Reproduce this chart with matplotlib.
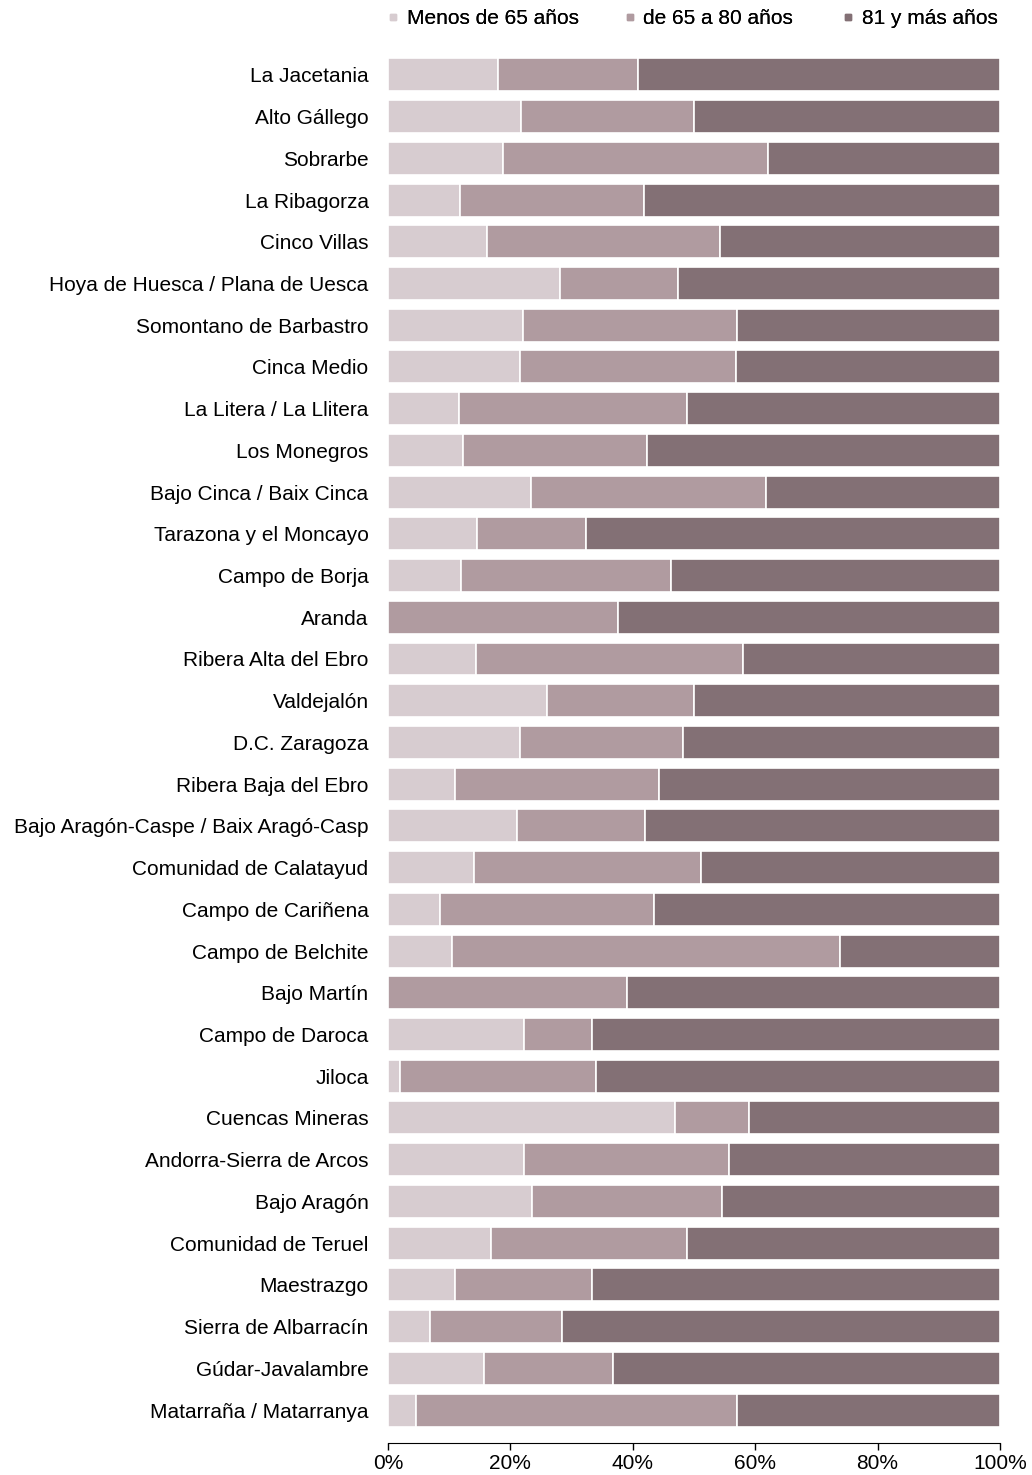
import matplotlib
matplotlib.use("Agg")
import matplotlib.pyplot as plt
from matplotlib.lines import Line2D

plt.rcParams['font.family'] = ['Liberation Sans', 'DejaVu Sans']

comarcas = [
    "La Jacetania", "Alto Gállego", "Sobrarbe", "La Ribagorza", "Cinco Villas",
    "Hoya de Huesca / Plana de Uesca", "Somontano de Barbastro", "Cinca Medio",
    "La Litera / La Llitera", "Los Monegros", "Bajo Cinca / Baix Cinca",
    "Tarazona y el Moncayo", "Campo de Borja", "Aranda", "Ribera Alta del Ebro",
    "Valdejalón", "D.C. Zaragoza", "Ribera Baja del Ebro",
    "Bajo Aragón-Caspe / Baix Aragó-Casp", "Comunidad de Calatayud",
    "Campo de Cariñena", "Campo de Belchite", "Bajo Martín", "Campo de Daroca",
    "Jiloca", "Cuencas Mineras", "Andorra-Sierra de Arcos", "Bajo Aragón",
    "Comunidad de Teruel", "Maestrazgo", "Sierra de Albarracín",
    "Gúdar-Javalambre", "Matarraña / Matarranya",
]

# cumulative boundaries (%)
menos65 = [17.9, 21.7, 18.8, 11.8, 16.2, 28.1, 22.1, 21.5, 11.6, 12.3, 23.4,
           14.6, 12.0, 0.0, 14.4, 26.0, 21.5, 10.9, 21.0, 14.0, 8.5, 10.4,
           0.0, 22.2, 1.9, 46.9, 22.2, 23.6, 16.8, 10.9, 6.9, 15.6, 4.5]
hasta80 = [40.8, 50.0, 62.1, 41.9, 54.2, 47.4, 57.1, 56.8, 48.8, 42.3, 61.8,
           32.3, 46.2, 37.5, 58.0, 50.0, 48.2, 44.3, 42.0, 51.2, 43.4, 73.9,
           39.0, 33.3, 34.0, 59.0, 55.7, 54.5, 48.8, 33.3, 28.5, 36.8, 57.1]

de65a80 = [b - a for a, b in zip(menos65, hasta80)]
mas81 = [100 - b for b in hasta80]

series = ["Menos de 65 años", "de 65 a 80 años", "81 y más años"]
colors = ["#d7ccd0", "#b09ba0", "#837075"]
fs = 15

fig = plt.figure(figsize=(10.32, 14.75), dpi=100)
ax = fig.add_axes([0.376, 0.0217, 0.593, 0.9417])

y = list(range(len(comarcas)))
left = [0.0] * len(comarcas)
for vals, col in zip([menos65, de65a80, mas81], colors):
    ax.barh(y, vals, left=left, height=0.79, color=col,
            edgecolor="white", linewidth=1.2)
    left = [l + v for l, v in zip(left, vals)]

ax.set_ylim(32.79, -0.5)
ax.set_xlim(0, 100)
ax.set_yticks(y)
ax.set_yticklabels(comarcas, fontsize=fs)
ax.tick_params(axis="y", length=0, pad=14)
ax.set_xticks([0, 20, 40, 60, 80, 100])
ax.set_xticklabels([f"{t}%" for t in [0, 20, 40, 60, 80, 100]], fontsize=fs)
ax.tick_params(axis="x", length=5, width=1, direction="out", pad=3)

for s in ["top", "right", "left"]:
    ax.spines[s].set_visible(False)
ax.spines["bottom"].set_color("black")

# legend entries placed like the original (uneven spacing)
for name, col, xpos in zip(series, colors, [0.376, 0.605, 0.817]):
    h = Line2D([], [], linestyle="none", marker="s", markersize=5, color=col)
    leg = fig.legend([h], [name], loc="center left", bbox_to_anchor=(xpos, 0.9875),
                     frameon=False, fontsize=fs, handlelength=0.5,
                     handletextpad=0.4, borderpad=0, borderaxespad=0)
    fig.add_artist(leg)

fig.savefig("out.png", dpi=100)
